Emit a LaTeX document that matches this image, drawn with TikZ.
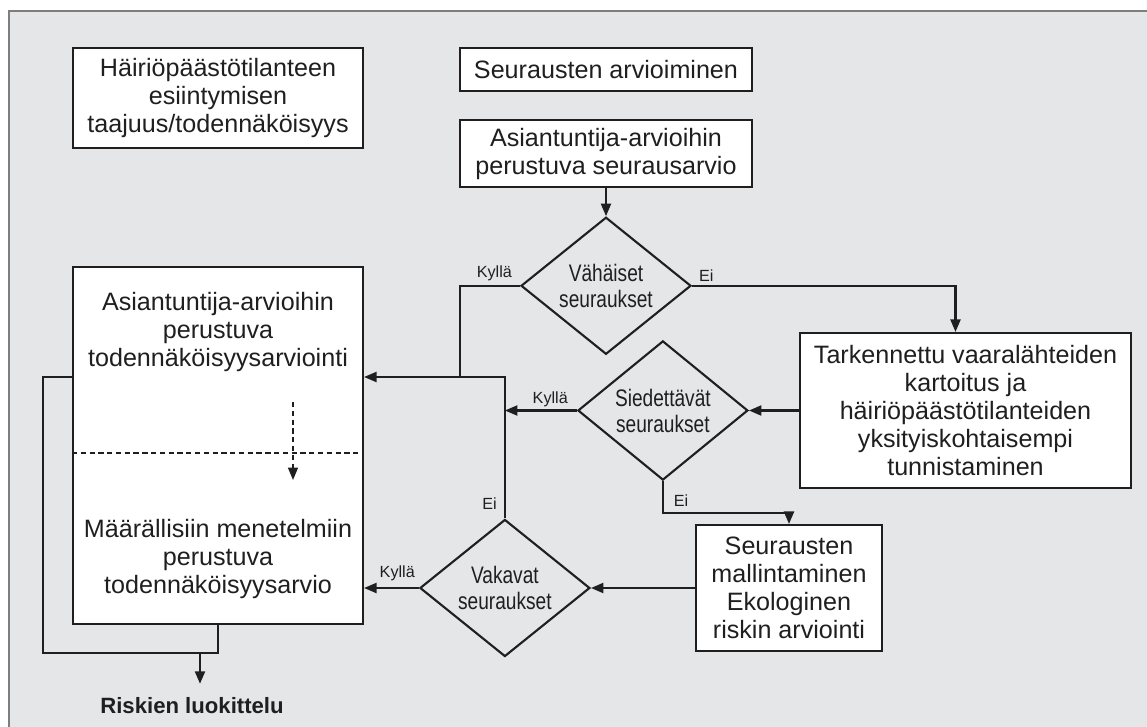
\documentclass[tikz,border=0pt]{standalone}
\usepackage{fontspec}
\setmainfont{Liberation Sans}
\newfontfamily\narrowfont[FakeStretch=0.8]{Liberation Sans}
\usetikzlibrary{positioning,shapes.geometric,arrows.meta}

\definecolor{panel}{HTML}{E5E6E8}
\definecolor{rim}{HTML}{7E7E7E}
\definecolor{ink}{HTML}{1F1F1F}

\begin{document}
\begin{tikzpicture}[x=0.2mm, y=-0.2mm, line width=1.2pt, color=ink,
      >={Triangle[length=2.5mm, width=2mm]},
      box/.style={draw, fill=white, align=center, inner sep=0pt,
          font=\fontsize{14.3pt}{15.9pt}\selectfont},
      boxtext/.style={align=center, inner sep=0pt,
          font=\fontsize{14.3pt}{15.9pt}\selectfont},
      decision/.style={diamond, draw, align=center, inner sep=0pt,
          minimum width=34mm, minimum height=24.8mm,
          font=\narrowfont\fontsize{13.6pt}{14.8pt}\selectfont},
      answer/.style={inner sep=0pt, font=\fontsize{9.2pt}{10pt}\selectfont}]

      % Grey panel
      \useasboundingbox (0,0) rectangle (1147,727);
      \clip (0,0) rectangle (1147,727);
      \draw[rim, fill=panel] (9,11) rectangle (1180,760);

      % Left column: frequency heading and probability box
      \node(frequency)[box, minimum width=58mm, minimum height=20mm] at (218,98)
          {Häiriöpäästötilanteen\\esiintymisen\\taajuus/todennäköisyys};
      \node(probability)[box, minimum width=58mm, minimum height=71.4mm] at (218,445.5) {};
      \node(expertprob)[boxtext] at (218,332)
          {Asiantuntija-arvioihin\\perustuva\\todennäköisyysarviointi};
      \node(quantprob)[boxtext] at (218,559)
          {Määrällisiin menetelmiin\\perustuva\\todennäköisyysarvio};

      % Dashed split between the two estimates
      \coordinate(split) at (218,453);
      \draw[densely dashed, line width=0.9pt] (probability.west |- split) -- (probability.east |- split);
      \coordinate(stepfrom) at (293,402);
      \coordinate(stepto) at (293,480);
      \draw[->, densely dashed, line width=0.9pt] (stepfrom) -- (stepto);

      % Right column: consequence assessment
      \node(assessment)[box, minimum width=58.4mm, minimum height=8.6mm] at (606,69.5)
          {Seurausten arvioiminen};
      \node(expert)[box, below=5.4mm of assessment, minimum width=58.4mm, minimum height=13.4mm]
          {Asiantuntija-arvioihin\\perustuva seurausarvio};
      \node(minor)[decision, below=5.6mm of expert] {Vähäiset\\seuraukset};
      \node(detailed)[box, minimum width=66.2mm, minimum height=31mm] at (965.5,410.5)
          {Tarkennettu vaaralähteiden\\kartoitus ja\\häiriöpäästötilanteiden\\yksityiskohtaisempi\\tunnistaminen};
      \node(tolerable)[decision, left=10mm of detailed] {Siedettävät\\seuraukset};
      \node(modelling)[box, minimum width=37.2mm, minimum height=25.2mm] at (789,588)
          {Seurausten\\mallintaminen\\Ekologinen\\riskin arviointi};
      \node(serious)[decision, left=20.8mm of modelling] {Vakavat\\seuraukset};

      % Arrows of the consequence path
      \coordinate(upper) at (serious.north |- 0,377);
      \draw[->] (expert) -- (minor);
      \draw[->] (minor.east) -| ([xshift=-2mm]detailed.north);
      \draw (minor.west) -| ([xshift=-9mm]upper);
      \draw[->] (detailed) -- (tolerable);
      \draw[->] (tolerable.west) -- (tolerable.west -| upper);
      \draw[->] (tolerable.south) -- ++(0,32) -| (modelling.north);
      \draw[->] (modelling) -- (serious);
      \draw[->] (serious.north) -- (upper) -- (upper -| probability.east);
      \draw[->] (serious.west) -- (serious.west -| probability.east);

      % Yes and no answers
      \node(minoryes)[answer, above left=0.8mm and 1.4mm of minor.west] {Kyllä};
      \node(minorno)[answer, above right=0.6mm and 1.2mm of minor.east] {Ei};
      \node(tolerableyes)[answer, above left=0.5mm and 1.6mm of tolerable.west] {Kyllä};
      \node(tolerableno)[answer, below right=2.6mm and 2mm of tolerable.south] {Ei};
      \node(seriousno)[answer, above left=1.6mm and 1.4mm of serious.north] {Ei};
      \node(seriousyes)[answer, above left=1.2mm and 0.6mm of serious.west] {Kyllä};

      % Both estimates lead to classification
      \coordinate(outflow) at ([yshift=-5.6mm]probability.south);
      \draw (probability.west |- upper) -- ++(-29,0) |- (outflow) -- (probability.south);
      \coordinate(drop) at ([xshift=-3.6mm]outflow);
      \node(classify)[inner sep=0pt, font=\bfseries\fontsize{12.6pt}{14pt}\selectfont] at (192,706)
          {Riskien luokittelu};
      \draw[->, shorten >=2.6mm] (drop) -- (drop |- classify.north);

\end{tikzpicture}
\end{document}
